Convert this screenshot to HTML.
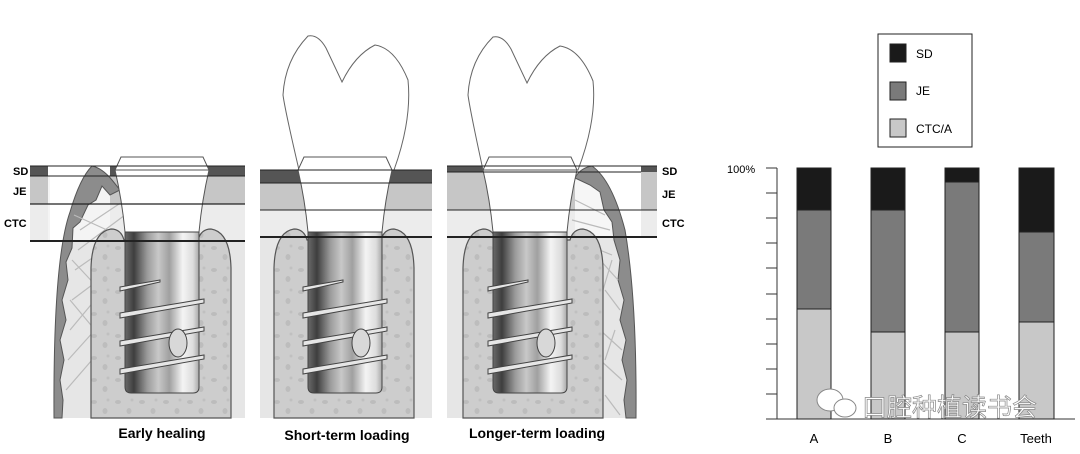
<!DOCTYPE html>
<html><head><meta charset="utf-8"><style>
html,body{margin:0;padding:0;background:#fff;}
svg{display:block;}
text{font-family:"Liberation Sans",Arial,sans-serif;}
</style></head><body>
<svg width="1080" height="454" viewBox="0 0 1080 454" xmlns="http://www.w3.org/2000/svg">
<defs>
<linearGradient id="imp" x1="0" x2="1" y1="0" y2="0">
<stop offset="0" stop-color="#6a6a6a"/><stop offset="0.12" stop-color="#3e3e3e"/><stop offset="0.3" stop-color="#9a9a9a"/><stop offset="0.45" stop-color="#c8c8c8"/><stop offset="0.6" stop-color="#a0a0a0"/><stop offset="0.78" stop-color="#f4f4f4"/><stop offset="0.92" stop-color="#dcdcdc"/><stop offset="1" stop-color="#a8a8a8"/>
</linearGradient>
<pattern id="dots" width="24" height="22" patternUnits="userSpaceOnUse">
<rect width="24" height="22" fill="#cdcdcd"/>
<ellipse cx="5" cy="6" rx="3" ry="2" fill="#bcbcbc"/><ellipse cx="16" cy="15" rx="2.5" ry="3" fill="#bdbdbd"/><ellipse cx="19" cy="4" rx="1.5" ry="1.5" fill="#c0c0c0"/>
</pattern>
<g id="bone">
<path d="M-70,418 L-70,268 Q-69,232 -50,229 Q-40,229 -37,240 L37,240 Q40,229 50,229 Q69,232 70,268 L70,418 Z" fill="url(#dots)" stroke="#555" stroke-width="1.2"/>
</g>
<g id="impl">
<path d="M-47,170 Q-40,200 -37,232 L37,232 Q40,200 47,170 Z" fill="#fff" stroke="#555" stroke-width="1"/>
<path d="M-41,157 L41,157 L47,170 L-47,170 Z" fill="#fff" stroke="#555" stroke-width="1"/>
<path d="M-37,232 L37,232 L37,387 Q37,393 31,393 L-31,393 Q-37,393 -37,387 Z" fill="url(#imp)" stroke="#444" stroke-width="1"/>
<g fill="#e6e6e6" stroke="#444" stroke-width="1">
<path d="M-42,287 L-2,280 L-2,282 L-42,291 Z"/>
<path d="M-42,313 L42,299 L42,303 L-42,318 Z"/>
<path d="M-42,341 L42,327 L42,331 L-42,346 Z"/>
<path d="M-42,369 L42,355 L42,359 L-42,374 Z"/>
</g>
<ellipse cx="16" cy="343" rx="9" ry="14" fill="#d8d8d8" stroke="#444" stroke-width="1"/>
</g>
</defs>

<!-- Panel 1 -->
<rect x="30" y="166" width="215" height="252" fill="#e6e6e6"/>
<rect x="30" y="176" width="215" height="28" fill="#c6c6c6"/>
<rect x="30" y="204" width="215" height="37" fill="#ececec"/>
<rect x="30" y="166" width="215" height="10" fill="#555"/>
<rect x="48" y="166" width="62" height="10" fill="#fff"/>
<rect x="48" y="176" width="62" height="65" fill="#f4f4f4"/>
<rect x="30" y="241" width="20" height="177" fill="#fff"/>
<path d="M50,241 L50,418 L54,418 Q55,260 70,215 Q80,180 92,166 L50,166 Z" fill="#fff"/>
<path d="M54,418 Q53,260 70,212 Q80,178 92,166 Q102,168 112,180 L120,190 L110,195 L102,186 L96,200 L88,205 L80,222 L73,228 L72,248 L66,262 L68,280 L62,300 L66,320 L60,340 L64,360 L60,380 L63,400 L62,418 Z" fill="#8c8c8c" stroke="#555" stroke-width="1"/>
<g stroke="#bbb" stroke-width="1.2" fill="none">
<path d="M80,230 L125,200 M78,250 L125,215 M75,270 L118,240 M72,300 L112,270 M70,330 L95,300 M68,360 L95,330 M66,390 L92,360 M74,215 L118,235 M72,260 L100,290 M70,300 L95,330"/>
</g>
<use href="#bone" x="161"/>
<use href="#impl" x="162"/>
<g stroke="#222" fill="none">
<line x1="30" y1="166" x2="245" y2="166" stroke-width="1"/>
<line x1="30" y1="176" x2="245" y2="176" stroke-width="1"/>
<line x1="30" y1="204" x2="245" y2="204" stroke-width="1.2"/>
<line x1="30" y1="241" x2="245" y2="241" stroke-width="2"/>
</g>
<text x="13" y="175" font-size="11" font-weight="bold">SD</text>
<text x="13" y="195" font-size="11" font-weight="bold">JE</text>
<text x="4" y="227" font-size="11" font-weight="bold">CTC</text>
<text x="162" y="438" font-size="14" font-weight="bold" text-anchor="middle">Early healing</text>

<!-- Panel 2 -->
<rect x="260" y="170" width="172" height="248" fill="#e6e6e6"/>
<rect x="260" y="183" width="172" height="27" fill="#c6c6c6"/>
<rect x="260" y="210" width="172" height="27" fill="#ececec"/>
<rect x="260" y="170" width="172" height="13" fill="#555"/>
<path d="M299,170 Q285,110 283,95 Q285,60 308,36 Q318,34 326,48 L342,82 Q355,55 375,45 Q395,48 408,80 Q412,120 394,170 Z" fill="#fff" stroke="#666" stroke-width="1"/>
<use href="#bone" x="344"/>
<use href="#impl" x="345"/>
<g stroke="#222">
<line x1="260" y1="170" x2="432" y2="170"/>
<line x1="260" y1="183" x2="432" y2="183"/>
<line x1="260" y1="210" x2="432" y2="210"/>
<line x1="260" y1="237" x2="432" y2="237" stroke-width="2"/>
</g>
<text x="347" y="440" font-size="14" font-weight="bold" text-anchor="middle">Short-term loading</text>

<!-- Panel 3 -->
<rect x="447" y="166" width="194" height="252" fill="#e6e6e6"/>
<rect x="447" y="172" width="194" height="38" fill="#c6c6c6"/>
<rect x="447" y="210" width="194" height="27" fill="#ececec"/>
<rect x="447" y="166" width="194" height="6" fill="#555"/>
<rect x="641" y="166" width="16" height="6" fill="#555"/>
<rect x="641" y="172" width="16" height="38" fill="#c6c6c6"/>
<rect x="641" y="210" width="16" height="27" fill="#ececec"/>
<rect x="575" y="166" width="66" height="71" fill="#f6f6f6"/>
<rect x="600" y="166" width="41" height="6" fill="#fff"/>
<path d="M641,237 L641,418 L636,418 Q637,300 625,230 Q612,180 592,166 L641,166 Z" fill="#fff"/>
<path d="M636,418 Q637,300 625,230 Q612,180 592,166 Q580,168 575,178 L590,185 L600,192 L604,210 L612,222 L614,240 L620,260 L618,280 L624,300 L620,320 L626,340 L622,360 L627,380 L624,400 L626,418 Z" fill="#8c8c8c" stroke="#555" stroke-width="1"/>
<g stroke="#bbb" stroke-width="1.2" fill="none">
<path d="M575,200 L605,215 M572,220 L610,230 M575,240 L612,255 M600,260 L618,280 M605,290 L620,310 M600,330 L622,350 M600,360 L622,380 M605,395 L620,415 M612,260 L600,300 M615,330 L605,360"/>
</g>
<path d="M483,170 Q470,110 468,95 Q470,60 493,37 Q503,35 511,49 L527,83 Q540,56 560,46 Q580,49 593,81 Q597,120 578,170 Z" fill="#fff" stroke="#666" stroke-width="1"/>
<use href="#bone" x="533"/>
<use href="#impl" x="530"/>
<g stroke="#222">
<line x1="447" y1="166" x2="657" y2="166"/>
<line x1="447" y1="172" x2="641" y2="172"/>
<line x1="447" y1="210" x2="657" y2="210"/>
<line x1="447" y1="237" x2="657" y2="237" stroke-width="2"/>
</g>
<text x="662" y="175" font-size="11" font-weight="bold">SD</text>
<text x="662" y="198" font-size="11" font-weight="bold">JE</text>
<text x="662" y="227" font-size="11" font-weight="bold">CTC</text>
<text x="537" y="438" font-size="14" font-weight="bold" text-anchor="middle">Longer-term loading</text>

<!-- Chart -->
<rect x="878" y="34" width="94" height="113" fill="#fff" stroke="#222" stroke-width="1"/>
<rect x="890" y="44" width="16" height="18" fill="#1a1a1a" stroke="#222"/>
<rect x="890" y="82" width="16" height="18" fill="#7a7a7a" stroke="#222"/>
<rect x="890" y="119" width="16" height="18" fill="#c8c8c8" stroke="#222"/>
<text x="916" y="58" font-size="12">SD</text>
<text x="916" y="95" font-size="12">JE</text>
<text x="916" y="133" font-size="12">CTC/A</text>
<text x="727" y="173" font-size="11">100%</text>
<g stroke="#333" stroke-width="1">
<line x1="777" y1="168" x2="777" y2="419"/>
<line x1="766" y1="419" x2="1075" y2="419"/>
<line x1="766" y1="168" x2="777" y2="168"/>
<line x1="766" y1="193" x2="777" y2="193"/><line x1="766" y1="218" x2="777" y2="218"/>
<line x1="766" y1="243" x2="777" y2="243"/><line x1="766" y1="268" x2="777" y2="268"/>
<line x1="766" y1="294" x2="777" y2="294"/><line x1="766" y1="319" x2="777" y2="319"/>
<line x1="766" y1="344" x2="777" y2="344"/><line x1="766" y1="369" x2="777" y2="369"/>
<line x1="766" y1="394" x2="777" y2="394"/>
</g>
<g stroke="#222" stroke-width="1">
<rect x="797" y="168" width="34" height="42" fill="#1a1a1a"/><rect x="797" y="210" width="34" height="99" fill="#7a7a7a"/><rect x="797" y="309" width="34" height="110" fill="#c8c8c8"/>
<rect x="871" y="168" width="34" height="42" fill="#1a1a1a"/><rect x="871" y="210" width="34" height="122" fill="#7a7a7a"/><rect x="871" y="332" width="34" height="87" fill="#c8c8c8"/>
<rect x="945" y="168" width="34" height="14" fill="#1a1a1a"/><rect x="945" y="182" width="34" height="150" fill="#7a7a7a"/><rect x="945" y="332" width="34" height="87" fill="#c8c8c8"/>
<rect x="1019" y="168" width="35" height="64" fill="#1a1a1a"/><rect x="1019" y="232" width="35" height="90" fill="#7a7a7a"/><rect x="1019" y="322" width="35" height="97" fill="#c8c8c8"/>
</g>
<text x="814" y="443" font-size="13" text-anchor="middle">A</text>
<text x="888" y="443" font-size="13" text-anchor="middle">B</text>
<text x="962" y="443" font-size="13" text-anchor="middle">C</text>
<text x="1036" y="443" font-size="13" text-anchor="middle">Teeth</text>
<g fill="#fff" stroke="#888" stroke-width="1">
<ellipse cx="830" cy="400" rx="13" ry="11"/>
<ellipse cx="845" cy="408" rx="11" ry="9"/>
</g>
<text x="862" y="416" font-size="25" fill="#fff" stroke="#888" stroke-width="0.7" font-family="'Liberation Sans','Noto Sans CJK SC',sans-serif">口腔种植读书会</text>
</svg>
</body></html>
